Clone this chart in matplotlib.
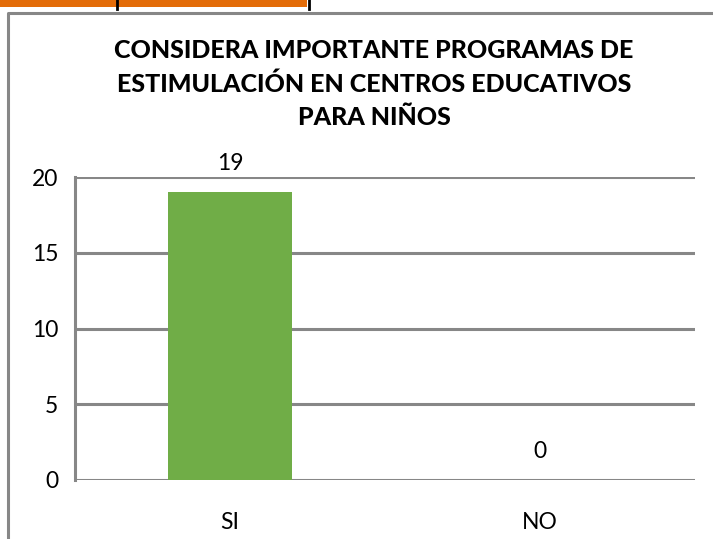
"""Bar chart: importance of stimulation programmes in schools (SI / NO)."""

import matplotlib.pyplot as plt
from matplotlib.lines import Line2D
from matplotlib.patches import Rectangle

plt.rcParams["font.family"] = ["Lato", "DejaVu Sans"]

TITLE = "CONSIDERA IMPORTANTE PROGRAMAS DE\nESTIMULACIÓN EN CENTROS EDUCATIVOS\nPARA NIÑOS"
CATEGORIES = ["SI", "NO"]
VALUES = [19, 0]
Y_TICKS = [0, 5, 10, 15, 20]

GRID = "#878787"
BAR = "#70AD47"
ORANGE = "#E36C09"

W, H = 713, 539
FS = 16.5


def main() -> None:
    fig = plt.figure(figsize=(W / 100, H / 100), dpi=100)

    # cropped table strip at the top of the page
    fig.add_artist(Rectangle((0, 1 - 7 / H), 307 / W, 7 / H, transform=fig.transFigure,
                             facecolor=ORANGE, edgecolor="none"))
    for xp in (117, 309):
        fig.add_artist(Line2D([xp / W, xp / W], [1, 1 - 9 / H], transform=fig.transFigure,
                              color="black", lw=2))

    # chart frame
    fig.add_artist(Line2D([7.5 / W, 7.5 / W, 1], [0, 1 - 12.5 / H, 1 - 12.5 / H],
                          transform=fig.transFigure, color=GRID, lw=2.2))

    ax = fig.add_axes([75 / W, (H - 480) / H, 620 / W, 303 / H])
    x = range(len(CATEGORIES))
    bars = ax.bar(x, VALUES, width=0.4, color=BAR, zorder=3)
    for rect, val in zip(bars, VALUES):
        ax.annotate(str(val), (rect.get_x() + rect.get_width() / 2, val),
                    xytext=(0, 13), textcoords="offset points",
                    ha="center", va="bottom", fontsize=FS)

    ax.set_xlim(-0.5, 1.5)
    ax.set_ylim(0, 20)
    ax.set_yticks(Y_TICKS)
    ax.set_xticks(list(x))
    ax.set_xticklabels(CATEGORIES)
    ax.tick_params(length=0, labelsize=FS, pad=12)
    ax.tick_params(axis="x", pad=23)
    ax.grid(axis="y", color=GRID, lw=2.2, zorder=0)
    for side in ("top", "right", "bottom"):
        ax.spines[side].set_visible(False)
    ax.spines["left"].set_color(GRID)
    ax.spines["left"].set_linewidth(2.2)

    fig.text(374 / W, 1 - 84 / H, TITLE, ha="center", va="center",
             fontsize=18, fontweight="black", linespacing=1.55)

    fig.savefig("out.png", dpi=100)
    plt.close(fig)


if __name__ == "__main__":
    main()
